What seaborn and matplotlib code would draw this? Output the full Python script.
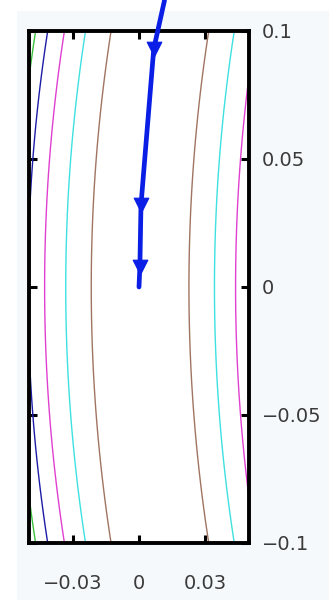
import matplotlib
matplotlib.use('Agg')
import matplotlib.pyplot as plt
import numpy as np
import seaborn as sns
from matplotlib.patches import Rectangle

# contour field: valley x = x0 + k*y^2, contours at |x - valley| = half-width
valley_x0 = 0.0005
valley_k = 0.9
level_halfwidths = [0.0222, 0.0338, 0.0434, 0.051, 0.0565]
level_colors = ['#a07462', '#3fe0e0', '#e040d0', '#1c1ca6', '#3cc040']

# descent path (iterates)
path_x = [0.0116, 0.0067, 0.0009, 0.0004, 0.0]
path_y = [0.112, 0.093, 0.032, 0.008, 0.0]
arrow_idx = [1, 2, 3]

xticks = [-0.03, 0, 0.03]
xticklabels = ['\u22120.03', '0', '0.03']
yticks = [-0.1, -0.05, 0, 0.05, 0.1]
yticklabels = ['\u22120.1', '\u22120.05', '0', '0.05', '0.1']

sns.set_theme(style='white')
plt.rcParams['font.family'] = ['DejaVu Sans']

fig = plt.figure(figsize=(3.29, 6.0), dpi=100)
fig.patches.append(Rectangle((17 / 329, 0), 1, 1 - 11 / 600, transform=fig.transFigure,
                             facecolor='#f5f9fc', edgecolor='none', zorder=-10))
ax = fig.add_axes([29 / 329, 57 / 600, 220 / 329, 512 / 600])
ax.set_facecolor('white')

gx = np.linspace(-0.05, 0.05, 400)
gy = np.linspace(-0.1, 0.1, 400)
X, Y = np.meshgrid(gx, gy)
Z = np.abs(X - valley_x0 - valley_k * Y ** 2)
ax.contour(X, Y, Z, levels=level_halfwidths, colors=level_colors, linewidths=1.0)

sns.lineplot(x=path_x, y=path_y, sort=False, ax=ax, color='#0a1ee6', linewidth=3.4,
             clip_on=False, zorder=5)
sns.scatterplot(x=[path_x[i] for i in arrow_idx], y=[path_y[i] for i in arrow_idx], ax=ax,
                marker='v', s=110, color='#0a1ee6', edgecolor='#0a1ee6', zorder=6, clip_on=False)

ax.set_xlim(-0.05, 0.05)
ax.set_ylim(-0.1, 0.1)
ax.set_xticks(xticks)
ax.set_xticklabels(xticklabels)
ax.set_yticks(yticks)
ax.set_yticklabels(yticklabels)
ax.yaxis.tick_right()
ax.tick_params(axis='both', direction='in', length=6, width=2.2, color='black',
               top=True, bottom=True, left=True, right=True, labelsize=14, labelcolor='#3a3a3a')
ax.tick_params(axis='x', pad=22)
ax.tick_params(axis='y', pad=9)
for s in ax.spines.values():
    s.set_visible(True)
    s.set_linewidth(2.8)
    s.set_color('black')

fig.savefig('out.png', dpi=100)
